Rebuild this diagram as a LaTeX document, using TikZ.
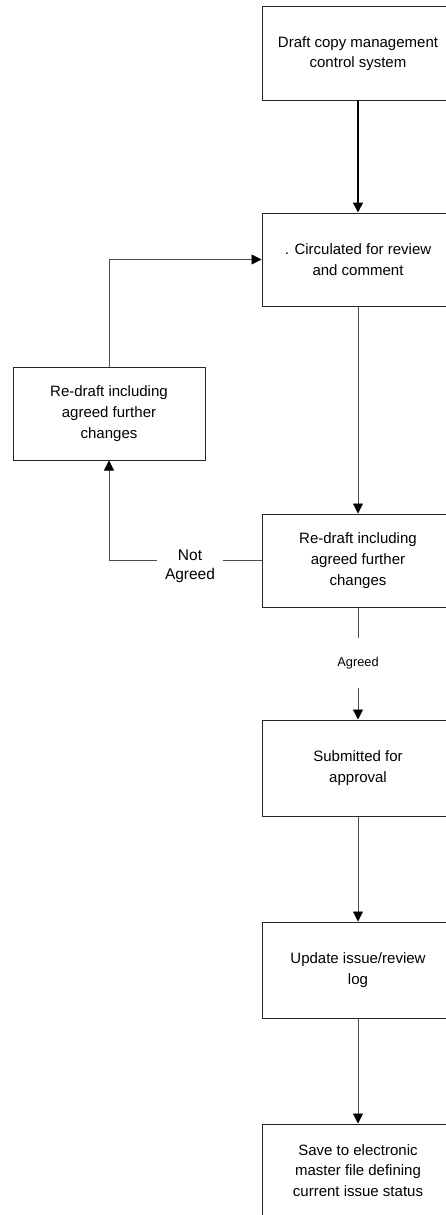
\documentclass[tikz,border=0pt]{standalone}
\usepackage{fontspec}
\setmainfont{Liberation Sans}
\usetikzlibrary{arrows.meta}
\begin{document}
\begin{tikzpicture}[x=1pt,y=-1pt,
  stepbox/.style={draw=black!85,line width=1pt,minimum width=192pt,minimum height=93pt,
    align=center,inner sep=0pt,font=\fontsize{15}{20.7}\selectfont},
  flow/.style={draw=black!70,line width=0.8pt,-{Triangle[length=10pt,width=10pt,color=black]}},
  plain/.style={draw=black!70,line width=0.8pt},
  lbl/.style={fill=white,inner sep=0pt,align=center}]
\useasboundingbox (0,0) rectangle (445,1215);

% process boxes
\node[stepbox] (b1) at (358,53.5) {Draft copy management\\control system};
\node[stepbox] (b2) at (358,259.5) {. Circulated for review\\and comment};
\node[stepbox] (lb) at (109,413.5) {Re-draft including\\agreed further\\changes};
\node[stepbox] (b3) at (358,560.5) {Re-draft including\\agreed further\\changes};
\node[stepbox,minimum height=96pt] (b4) at (358,768) {Submitted for\\approval};
\node[stepbox,minimum height=96pt] (b5) at (358,970) {Update issue/review\\log};
\node[stepbox] (b6) at (358,1170.5) {Save to electronic\\master file defining\\current issue status};

% decision labels
\node[lbl,minimum width=66pt,minimum height=40pt,font=\fontsize{15.5}{19}\selectfont] (nag) at (190,566) {Not\\Agreed};
\node[lbl,minimum width=60pt,minimum height=50pt,font=\fontsize{12.8}{15}\selectfont] (ag) at (358,663) {Agreed};

% connectors
\draw[flow,draw=black,line width=1.6pt] (b1.south) -- (b2.north);
\draw[flow] (b2.south) -- (b3.north);
\draw[flow] (lb.north) |- (b2.west);
\draw[plain] (b3.west) -- (nag.east |- b3.west);
\draw[flow] (nag.west |- b3.west) -| (lb.south);
\draw[plain] (b3.south) -- (ag.north);
\draw[flow] (ag.south) -- (b4.north);
\draw[flow] (b4.south) -- (b5.north);
\draw[flow] (b5.south) -- (b6.north);
\end{tikzpicture}
\end{document}
